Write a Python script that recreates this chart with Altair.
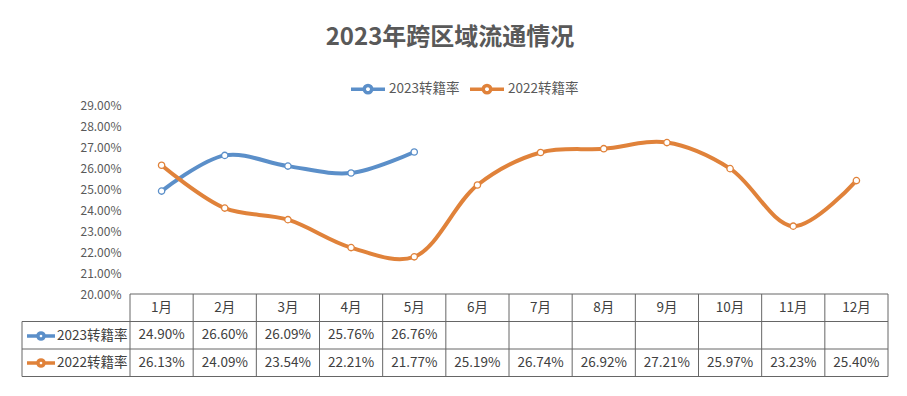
import altair as alt
import pandas as pd

# ---- data ----
months = ["1月", "2月", "3月", "4月", "5月", "6月", "7月", "8月", "9月", "10月", "11月", "12月"]
series_names = ["2023转籍率", "2022转籍率"]
rate_2023 = [24.90, 26.60, 26.09, 25.76, 26.76]
rate_2022 = [26.13, 24.09, 23.54, 22.21, 21.77, 25.19, 26.74, 26.92, 27.21, 25.97, 23.23, 25.40]
y_ticks = [20, 21, 22, 23, 24, 25, 26, 27, 28, 29]

FONT = "Noto Sans CJK SC"
BLUE = "#5b8fc9"
ORANGE = "#e0823a"
GRID = "#666666"
TEXT = "#404040"
AXIS_TEXT = "#595959"

W, H = 758, 189
TABLE_H = 82.5
LEFT_COL = -108 / (W / 12)   # left label column width in month units

rows = []
for i, v in enumerate(rate_2023):
    rows.append({"pos": i + 0.5, "series": series_names[0], "label": series_names[0], "value": v / 100})
for i, v in enumerate(rate_2022):
    rows.append({"pos": i + 0.5, "series": series_names[1], "label": series_names[1], "value": v / 100})
df = pd.DataFrame(rows)

x_enc = alt.X("pos:Q", scale=alt.Scale(domain=[0, 12], nice=False, zero=False), axis=None)
y_scale = alt.Scale(domain=[0.20, 0.29], nice=False, zero=False)
y_axis = alt.Axis(
    format=".2%", values=[t / 100 for t in y_ticks], domain=False, ticks=False, grid=False,
    labelFont=FONT, labelFontSize=12, labelColor=AXIS_TEXT, labelPadding=9, title=None,
    labelOverlap=False,
)

SYMBOL = "M-1,0H-0.22 M0.22,0H1 M-0.22,0A0.22,0.22 0 1,0 0.22,0A0.22,0.22 0 1,0 -0.22,0"

lines = alt.Chart(df).mark_line(interpolate="catmull-rom", strokeWidth=4).encode(
    x=x_enc,
    y=alt.Y("value:Q", scale=y_scale, axis=y_axis),
    color=alt.Color(
        "series:N", sort=series_names, scale=alt.Scale(range=[BLUE, ORANGE]),
        legend=alt.Legend(
            orient="none", legendX=219, legendY=-35, direction="horizontal", title=None,
            symbolType=SYMBOL, symbolSize=1156, symbolStrokeWidth=3.5, symbolFillColor="white",
            labelFont=FONT, labelFontSize=13.5, labelColor=AXIS_TEXT, columnPadding=3, labelOffset=2,
        ),
    ),
)

points = alt.Chart(df).mark_point(shape="circle", size=40, filled=True, fill="white", strokeWidth=1.3, opacity=1).encode(
    x=x_enc,
    y=alt.Y("value:Q", scale=y_scale, axis=y_axis),
    stroke=alt.Stroke(
        "label:N", sort=series_names, scale=alt.Scale(range=[BLUE, ORANGE]),
        legend=alt.Legend(
            orient="none", legendX=-105, legendY=215, direction="vertical", title=None,
            symbolType=SYMBOL, symbolSize=784, symbolStrokeWidth=3.5, symbolFillColor="white",
            labelFont=FONT, labelFontSize=13.5, labelColor=TEXT, rowPadding=0, labelOffset=0,
        ),
    ),
)

chart_lines = alt.layer(lines, points)

# ---- table ----
ty = alt.Scale(domain=[0, 3], range=[H, H + TABLE_H], nice=False, zero=False)

hrule_rows = [{"x": (0 if k == 0 else LEFT_COL), "x2": 12, "y": k} for k in range(4)]
vrule_rows = [{"x": j, "y": 0, "y2": 3} for j in range(13)] + [{"x": LEFT_COL, "y": 1, "y2": 3}]

cells = []
for i, m in enumerate(months):
    cells.append({"x": i + 0.5, "y": 0.5, "t": m})
for i, v in enumerate(rate_2023):
    cells.append({"x": i + 0.5, "y": 1.5, "t": f"{v:.2f}%"})
for i, v in enumerate(rate_2022):
    cells.append({"x": i + 0.5, "y": 2.5, "t": f"{v:.2f}%"})

hr = alt.Chart(pd.DataFrame(hrule_rows)).mark_rule(color=GRID, strokeWidth=1).encode(
    x=alt.X("x:Q", scale=alt.Scale(domain=[0, 12], nice=False, zero=False), axis=None), x2="x2:Q",
    y=alt.Y("y:Q", scale=ty, axis=None),
)
vr = alt.Chart(pd.DataFrame(vrule_rows)).mark_rule(color=GRID, strokeWidth=1).encode(
    x=alt.X("x:Q", scale=alt.Scale(domain=[0, 12], nice=False, zero=False), axis=None),
    y=alt.Y("y:Q", scale=ty, axis=None), y2="y2:Q",
)
tx = alt.Chart(pd.DataFrame(cells)).mark_text(font=FONT, fontSize=13.5, color=TEXT, align="center", baseline="middle").encode(
    x=alt.X("x:Q", scale=alt.Scale(domain=[0, 12], nice=False, zero=False), axis=None),
    y=alt.Y("y:Q", scale=ty, axis=None),
    text="t:N",
)
table = alt.layer(hr, vr, tx)

chart = alt.layer(chart_lines, table).resolve_scale(y="independent").properties(
    width=W, height=H,
    title=alt.TitleParams(
        "2023年跨区域流通情况", font=FONT, fontSize=24, fontWeight="bold", color=AXIS_TEXT,
        anchor="middle", dx=-59, offset=20,
    ),
    autosize=alt.AutoSizeParams(type="none"),
    padding={"left": 122, "top": 97, "right": 11, "bottom": 90},
).configure_view(stroke=None)

chart.save("out.html", embed_options={"renderer": "svg", "actions": False})
